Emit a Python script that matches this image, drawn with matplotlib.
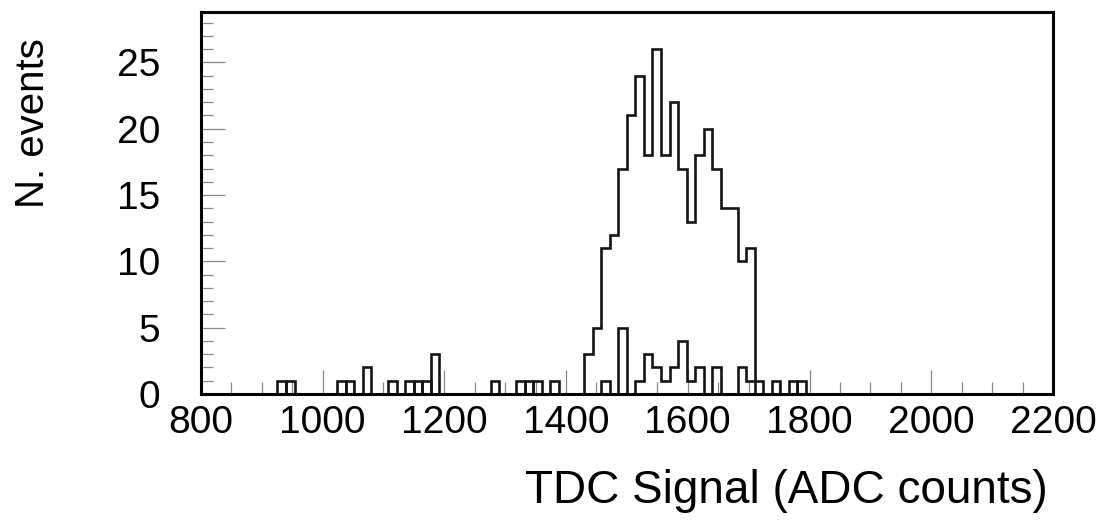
import matplotlib
matplotlib.use("Agg")
import matplotlib.pyplot as plt
from matplotlib.ticker import MultipleLocator
import numpy as np

# 100 bins of 14 ADC counts from 800 to 2200
bin_lo, bin_hi, n_bins = 800, 2200, 100

# main population: bin centres and counts
main_x = [933, 1045, 1115, 1143, 1171, 1283, 1325, 1353, 1381,
          1437, 1451, 1465, 1479, 1493, 1507, 1521, 1535, 1549, 1563,
          1577, 1591, 1605, 1619, 1633, 1647, 1661, 1675, 1689, 1703,
          1745, 1773]
main_n = [1, 1, 1, 1, 1, 1, 1, 1, 1,
          3, 5, 11, 12, 17, 21, 24, 18, 26, 18,
          22, 17, 13, 18, 20, 17, 14, 14, 10, 11,
          1, 1]

# second population
other_x = [947, 1031, 1073, 1157, 1185, 1339, 1465, 1493, 1521, 1535,
           1549, 1563, 1577, 1591, 1605, 1619, 1647, 1689, 1703, 1717, 1787]
other_n = [1, 1, 2, 1, 3, 1, 1, 5, 1, 3,
           2, 1, 2, 4, 1, 2, 2, 2, 1, 1, 1]

xticks = [800, 1000, 1200, 1400, 1600, 1800, 2000, 2200]
yticks = [0, 5, 10, 15, 20, 25]

edges = np.linspace(bin_lo, bin_hi, n_bins + 1)

plt.rcParams['font.family'] = ['Liberation Sans', 'DejaVu Sans']

fig = plt.figure(figsize=(11, 5.22), dpi=100)
ax = fig.add_axes([0.1825, 0.2452, 0.9573 - 0.1825, 0.977 - 0.2452])

ax.hist(main_x, bins=edges, weights=main_n, histtype='step',
        color='#151515', lw=1.9)
ax.hist(other_x, bins=edges, weights=other_n, histtype='step',
        color='#151515', lw=1.9)

ax.set_xlim(bin_lo, bin_hi)
ax.set_ylim(0, 28.8)
ax.set_xticks(xticks)
ax.set_yticks(yticks)
ax.xaxis.set_minor_locator(MultipleLocator(50))
ax.yaxis.set_minor_locator(MultipleLocator(1))

ax.tick_params(which='both', direction='in', color='#888888', width=0.9,
               top=False, right=False, labelsize=28)
ax.tick_params(which='major', length=17)
ax.tick_params(which='minor', length=8.5)
ax.tick_params(axis='x', pad=8)
ax.tick_params(axis='y', pad=29)

for s in ax.spines.values():
    s.set_linewidth(2.2)
    s.set_color('black')

fig.text(1048 / 1100, 1 - 491 / 522, 'TDC Signal (ADC counts)',
         ha='right', va='center', fontsize=33)
fig.text(33 / 1100, 1 - 38 / 522, 'N. events', rotation=90,
         ha='center', va='top', fontsize=29)

fig.savefig('out.png', dpi=100)
